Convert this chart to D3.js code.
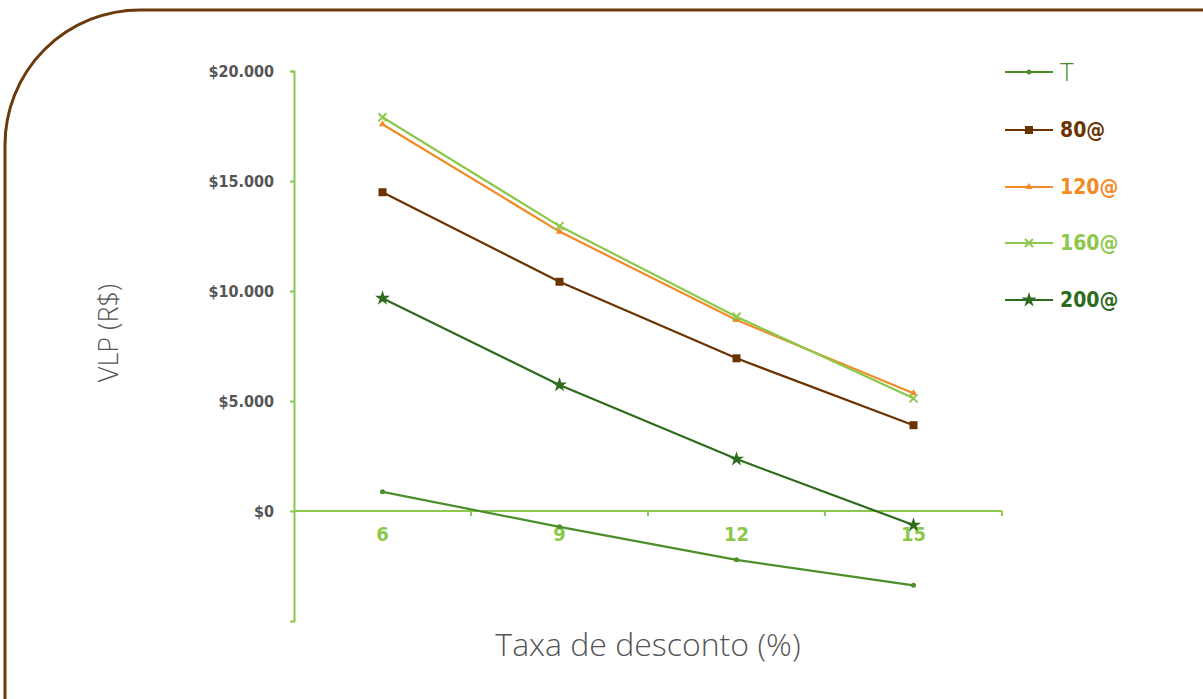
<!DOCTYPE html>
<html>
<head>
<meta charset="utf-8">
<script src="https://cdn.jsdelivr.net/npm/d3@7"></script>
<style>
  body { margin: 0; background: #fff; }
  svg { display: block; }
</style>
</head>
<body>
<svg id="chart"></svg>
<script>
const categories = ["6", "9", "12", "15"]
const seriesNames = ["T", "80@", "120@", "160@", "200@"]
const valuesT = [870, -720, -2220, -3380]
const values80 = [14490, 10420, 6940, 3900]
const values120 = [17580, 12700, 8680, 5350]
const values160 = [17900, 12950, 8830, 5120]
const values200 = [9670, 5730, 2360, -640]
const yTicks = [0, 5000, 10000, 15000, 20000]

const width = 1203
const height = 699

const series = [
    { name: seriesNames[0], values: valuesT, color: "#4b8f2b", marker: "dot", bold: false },
    { name: seriesNames[1], values: values80, color: "#6b3300", marker: "square", bold: true },
    { name: seriesNames[2], values: values120, color: "#f28a26", marker: "triangle", bold: true },
    { name: seriesNames[3], values: values160, color: "#8cc84b", marker: "cross", bold: true },
    { name: seriesNames[4], values: values200, color: "#2f6b1c", marker: "star", bold: true }
]

const condensed = "'DejaVu Sans Condensed', 'Liberation Sans Narrow', sans-serif"
const light = "'Open Sans', Lato, sans-serif"

const svg = d3.select("#chart")
    .attr("width", width)
    .attr("height", height)

// brown frame with rounded top-left corner
svg.append("path")
    .attr("d", "M5,705 L5,145 A135,135 0 0 1 140,10 L1210,10")
    .attr("fill", "none")
    .attr("stroke", "#6b3a0c")
    .attr("stroke-width", 3)

const x = d3.scaleBand().domain(categories).range([294, 1002])
const y = d3.scaleLinear().domain([-5000, 20000]).range([621, 71])

const axisColor = "#8cc84b"
const fmt = d => "$" + (d === 0 ? "0" : d3.format(",")(d).replace(/,/g, "."))

// y axis
const yAxis = svg.append("g")
    .attr("transform", `translate(${x.range()[0]},0)`)
    .call(d3.axisLeft(y).tickValues(yTicks).tickSize(4).tickSizeOuter(4).tickFormat(fmt))
yAxis.select(".domain").attr("stroke", axisColor).attr("stroke-width", 2)
yAxis.selectAll(".tick line").attr("stroke", axisColor).attr("stroke-width", 2)
yAxis.selectAll(".tick text")
    .attr("x", -20)
    .attr("fill", "#555")
    .style("font-family", condensed)
    .style("font-weight", "bold")
    .style("font-size", "16px")

// x axis at zero, ticks on category boundaries
const xAxis = svg.append("g")
    .attr("transform", `translate(0,${y(0)})`)
xAxis.append("line")
    .attr("x1", x.range()[0]).attr("x2", x.range()[1])
    .attr("stroke", axisColor).attr("stroke-width", 2)
xAxis.selectAll(".bt")
    .data(categories.slice(1).concat(["end"]))
    .enter()
    .append("line")
    .attr("x1", (d, i) => x.range()[0] + (i + 1) * x.bandwidth())
    .attr("x2", (d, i) => x.range()[0] + (i + 1) * x.bandwidth())
    .attr("y1", 0).attr("y2", 5)
    .attr("stroke", axisColor).attr("stroke-width", 2)
xAxis.selectAll(".xl")
    .data(categories)
    .enter()
    .append("text")
    .attr("x", d => x(d) + x.bandwidth() / 2)
    .attr("y", 30)
    .attr("text-anchor", "middle")
    .attr("fill", axisColor)
    .style("font-family", condensed)
    .style("font-weight", "bold")
    .style("font-size", "20px")
    .text(d => d)

// axis titles
svg.append("text")
    .attr("transform", "translate(118,333) rotate(-90)")
    .attr("text-anchor", "middle")
    .attr("fill", "#555")
    .style("font-family", light)
    .style("font-weight", 300)
    .style("font-size", "27px")
    .text("VLP (R$)")
svg.append("text")
    .attr("x", 648)
    .attr("y", 656)
    .attr("text-anchor", "middle")
    .attr("fill", "#555")
    .style("font-family", light)
    .style("font-weight", 300)
    .style("font-size", "32px")
    .text("Taxa de desconto (%)")

const cx = d => x(d) + x.bandwidth() / 2

function drawMarker(g, type, color) {
    if (type === "dot") {
        g.append("circle").attr("r", 2.5).attr("fill", color)
    } else if (type === "square") {
        g.append("rect").attr("x", -4).attr("y", -4).attr("width", 8).attr("height", 8).attr("fill", color)
    } else if (type === "triangle") {
        g.append("path").attr("d", d3.symbol(d3.symbolTriangle, 22)).attr("fill", color)
    } else if (type === "cross") {
        g.append("path").attr("d", "M-4,-4L4,4M-4,4L4,-4").attr("stroke", color).attr("stroke-width", 2)
    } else if (type === "star") {
        g.append("path").attr("d", d3.symbol(d3.symbolStar, 70)).attr("fill", color)
    }
}

const line = d3.line().x((d, i) => cx(categories[i])).y(d => y(d))

series.forEach(s => {
    svg.append("path")
        .datum(s.values)
        .attr("d", line)
        .attr("fill", "none")
        .attr("stroke", s.color)
        .attr("stroke-width", 2.2)
    s.values.forEach((v, i) => {
        const g = svg.append("g").attr("transform", `translate(${cx(categories[i])},${y(v)})`)
        drawMarker(g, s.marker, s.color)
    })
})

// legend
const legendY = [72, 130, 187, 243, 300]
series.forEach((s, i) => {
    const g = svg.append("g").attr("transform", `translate(1005,${legendY[i]})`)
    g.append("line").attr("x1", 0).attr("x2", 48).attr("stroke", s.color).attr("stroke-width", 2.2)
    const m = g.append("g").attr("transform", "translate(24,0)")
    drawMarker(m, s.marker, s.color)
    g.append("text")
        .attr("x", 55)
        .attr("dy", "0.35em")
        .attr("fill", s.color)
        .style("font-family", s.bold ? condensed : light)
        .style("font-weight", s.bold ? "bold" : 300)
        .style("font-size", s.bold ? "21px" : "26px")
        .text(s.name)
})
</script>
</body>
</html>
